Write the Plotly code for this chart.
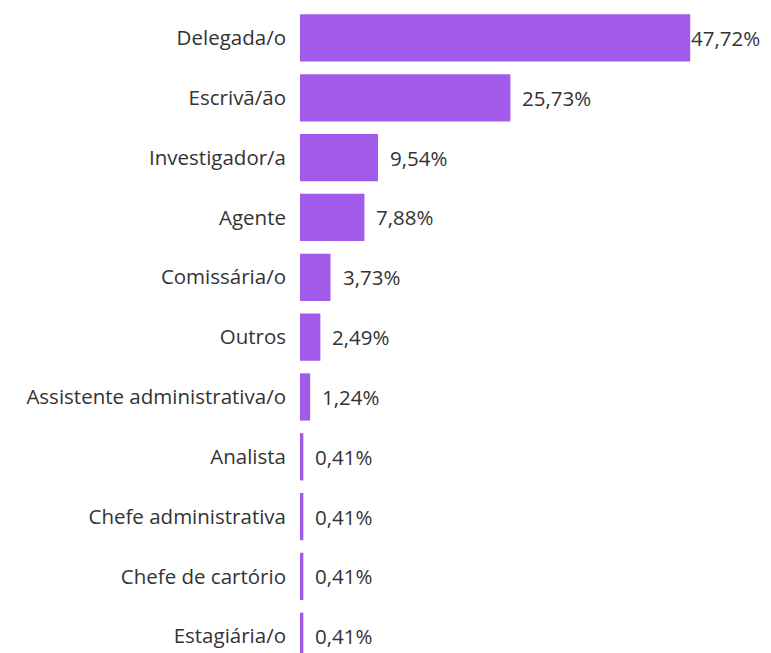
import plotly.graph_objects as go

# Share of respondents by job title (%)
cargos = [
    "Delegada/o",
    "Escrivã/ão",
    "Investigador/a",
    "Agente",
    "Comissária/o",
    "Outros",
    "Assistente administrativa/o",
    "Analista",
    "Chefe administrativa",
    "Chefe de cartório",
    "Estagiária/o",
]
percentuais = [47.72, 25.73, 9.54, 7.88, 3.73, 2.49, 1.24, 0.41, 0.41, 0.41, 0.41]

BAR_COLOR = "#a25ae8"
TEXT_COLOR = "#333333"
FONT = "Open Sans"
FONT_SIZE = 20.5


def fmt_pct(v):
    return f"{v:.2f}".replace(".", ",") + "%"


fig = go.Figure(
    go.Bar(
        x=percentuais,
        y=cargos,
        orientation="h",
        marker=dict(color=BAR_COLOR, line=dict(width=0)),
        hovertemplate="%{y}: %{x:.2f}%<extra></extra>",
    )
)

# value labels next to each bar; the longest bar's label hugs its end
max_v = max(percentuais)
annotations = []
for cat, v in zip(cargos, percentuais):
    annotations.append(
        dict(
            x=v,
            y=cat,
            xref="x",
            yref="y",
            text=fmt_pct(v),
            showarrow=False,
            xanchor="left",
            yanchor="middle",
            xshift=-1 if v == max_v else 10,
            font=dict(family=FONT, size=FONT_SIZE, color=TEXT_COLOR),
        )
    )

fig.update_layout(
    width=771,
    height=653,
    margin=dict(l=300, r=0, t=0, b=0),
    paper_bgcolor="white",
    plot_bgcolor="white",
    bargap=0.21,
    showlegend=False,
    annotations=annotations,
    font=dict(family=FONT, color=TEXT_COLOR),
)
fig.update_xaxes(
    range=[0, 57.6],
    visible=False,
    showgrid=False,
    zeroline=False,
)
fig.update_yaxes(
    type="category",
    categoryorder="array",
    categoryarray=cargos,
    range=[10.28, -0.635],
    showgrid=False,
    zeroline=False,
    showline=False,
    ticks="",
    ticklabelstandoff=13,
    tickfont=dict(family=FONT, size=FONT_SIZE, color=TEXT_COLOR),
)

fig.write_html("out.html")
